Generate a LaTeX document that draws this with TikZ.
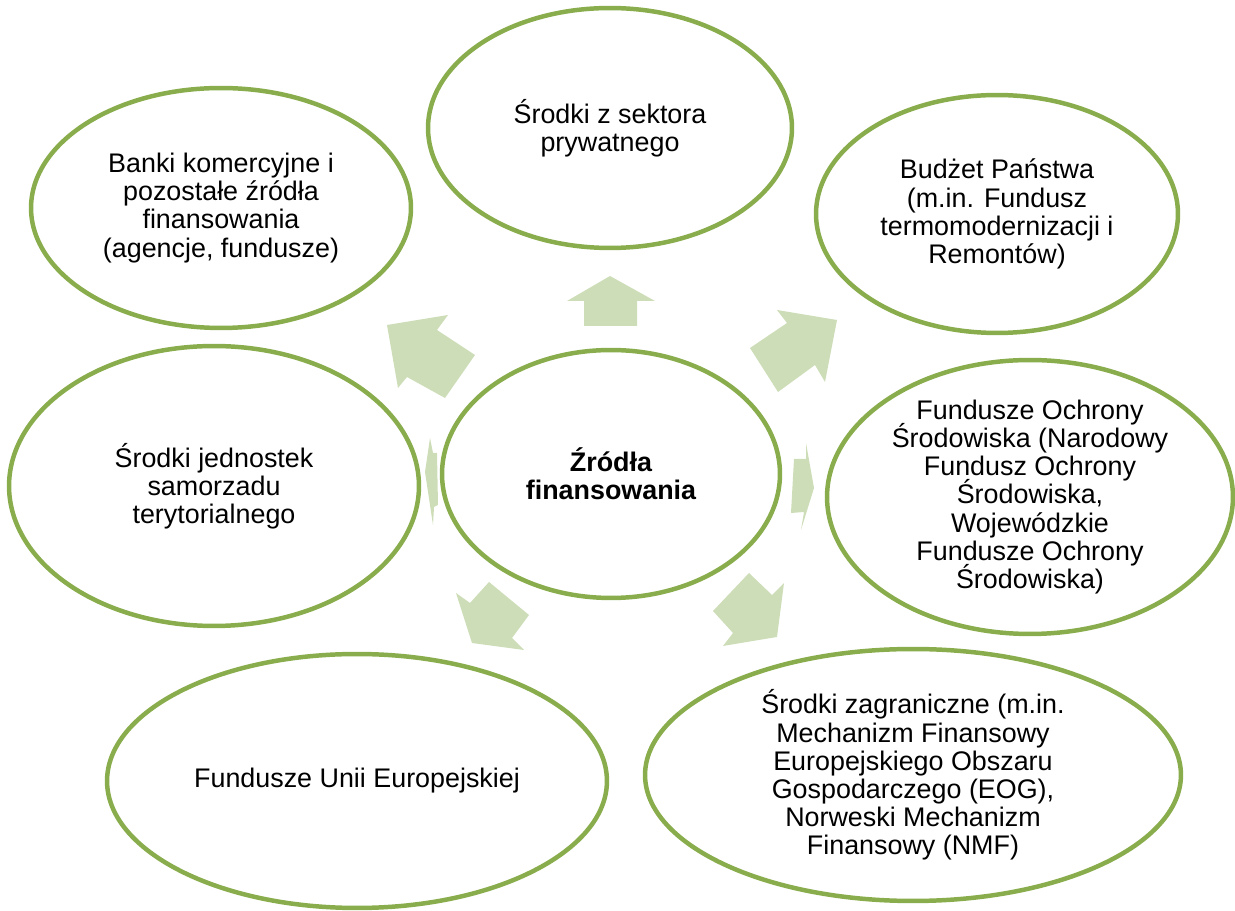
\documentclass[tikz,border=0pt]{standalone}
\usepackage{fontspec}
\setmainfont{Liberation Sans}
\usetikzlibrary{shapes.geometric}
\newcommand{\ringfont}{\fontsize{15.3}{16}\selectfont\lineskiplimit=-20pt\relax}
\tikzset{
  ring/.style={
    ellipse,
    draw=ringgreen,
    line width=2.55pt,
    inner sep=0pt,
    align=center,
    font=\ringfont
  },
  source-ellipse/.style={ring},
  hub-ellipse/.style={ring, font=\ringfont\bfseries},
  flow-arrow/.style={fill=arrowgreen, draw=none}
}
\definecolor{ringgreen}{RGB}{137,172,76}
\definecolor{arrowgreen}{RGB}{205,221,183}
\newcommand{\diagramframe}{
  \useasboundingbox (0,0) rectangle (1235,911);
}

\begin{document}
\begin{tikzpicture}[x=0.02cm, y=-0.02cm]
  \diagramframe
  % hub and the seven sources round it
  \node[hub-ellipse, minimum width=6.76cm, minimum height=4.96cm] (zrodla) at (611,474) {Źródła\\finansowania};
  \node[source-ellipse, minimum width=7.28cm, minimum height=4.8cm] (prywatne) at (610,128) {Środki z sektora\\prywatnego};
  \node[source-ellipse, minimum width=7.24cm, minimum height=4.76cm] (budzet) at (997,214) {Budżet Państwa\\(m.in. Fundusz\\termomodernizacji i\\Remontów)};
  \node[source-ellipse, minimum width=8.12cm, minimum height=5.44cm] (fos) at (1030,497) {Fundusze Ochrony\\Środowiska (Narodowy\\Fundusz Ochrony\\Środowiska,\\Wojewódzkie\\Fundusze Ochrony\\Środowiska)};
  \node[source-ellipse, minimum width=10.72cm, minimum height=5.04cm] (zagraniczne) at (913,775) {Środki zagraniczne (m.in.\\Mechanizm Finansowy\\Europejskiego Obszaru\\Gospodarczego (EOG),\\Norweski Mechanizm\\Finansowy (NMF)};
  \node[source-ellipse, minimum width=10cm, minimum height=5.08cm] (ue) at (357,781) {Fundusze Unii Europejskiej};
  \node[source-ellipse, minimum width=8.2cm, minimum height=5.6cm] (jst) at (214,486) {Środki jednostek\\samorzadu\\terytorialnego};
  \node[source-ellipse, minimum width=7.6cm, minimum height=4.8cm] (banki) at (221,208) {Banki komercyjne i\\pozostałe źródła\\finansowania\\(agencje, fundusze)};
  % block arrows pointing out of the hub
  \fill[flow-arrow] (584,326) -- (584,301) -- (567,301) -- (610,276) -- (655,301) -- (637,301) -- (637,326) -- cycle;
  \fill[flow-arrow] (750,348) -- (787,323) -- (777,310) -- (837,320) -- (825,382) -- (815,365) -- (778,392) -- cycle;
  \fill[flow-arrow] (791,513) -- (794,459) -- (806,459) -- (806,443) -- (814,488) -- (801,530) -- (804,512) -- cycle;
  \fill[flow-arrow] (749,573) -- (772,595) -- (784,583) -- (777,637) -- (723,646) -- (733,633) -- (713,611) -- cycle;
  \fill[flow-arrow] (489,582) -- (529,615) -- (512,638) -- (524,650) -- (472,643) -- (456,593) -- (470,603) -- cycle;
  \fill[flow-arrow] (437,453) -- (433,453) -- (430,438) -- (425,472) -- (433,525) -- (434,507) -- (438,505) -- cycle;
  \fill[flow-arrow] (475,355) -- (437,330) -- (448,315) -- (387,325) -- (398,388) -- (407,377) -- (445,398) -- cycle;
\end{tikzpicture}
\end{document}
